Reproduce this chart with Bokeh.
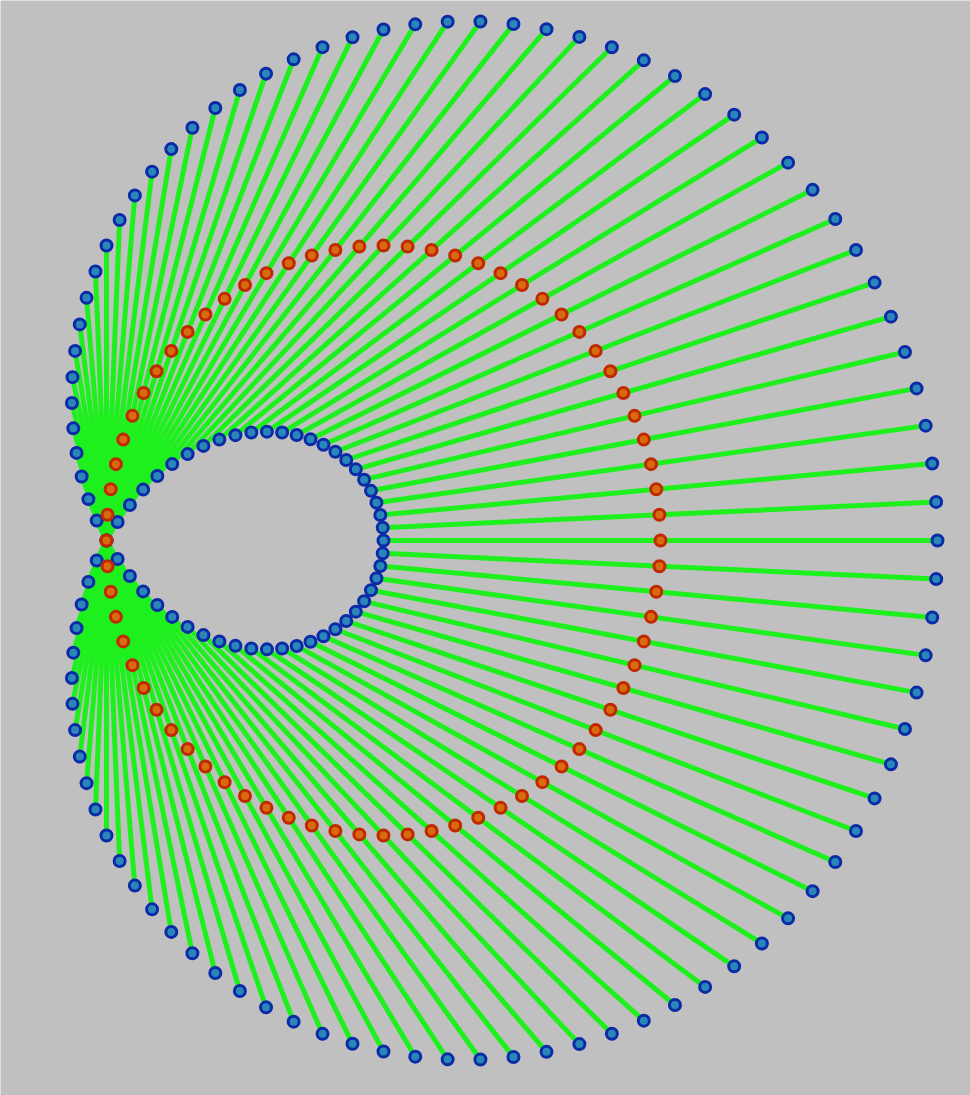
import numpy as np
from bokeh.plotting import figure
from bokeh.embed import file_html
from bokeh.resources import INLINE
from bokeh.models import Range1d

# Construction parameters (circle radius, fixed point on circle, extension length)
circle_center = [1.0, 0.0]
circle_radius = 1.0
extension = 1.0
# central angles (degrees) of the points placed on the red circle
angles_deg = [0, 5, 10, 15, 20, 25, 30, 35, 40, 45, 50, 55, 60, 65, 70, 75, 80, 85,
              90, 95, 100, 105, 110, 115, 120, 125, 130, 135, 140, 145, 150, 155, 160, 165, 170, 175,
              180, 185, 190, 195, 200, 205, 210, 215, 220, 225, 230, 235, 240, 245, 250, 255, 260, 265,
              270, 275, 280, 285, 290, 295, 300, 305, 310, 315, 320, 325, 330, 335, 340, 345, 350, 355]

phi = np.radians(np.array(angles_deg, dtype=float))
px = circle_center[0] + circle_radius * np.cos(phi)
py = circle_center[1] + circle_radius * np.sin(phi)
theta = phi / 2.0
ux, uy = np.cos(theta), np.sin(theta)
ox, oy = px + extension * ux, py + extension * uy
ix, iy = px - extension * ux, py - extension * uy

W, H = 970, 1095
sx, sy = 277.0, 295.0
x0 = -106.0 / sx
y1 = 540.0 / sy
p = figure(width=W, height=H, output_backend="svg", toolbar_location=None,
           x_range=Range1d(x0, x0 + W / sx), y_range=Range1d(y1 - H / sy, y1),
           min_border=0, background_fill_color="#c0c0c0", border_fill_color="#c0c0c0",
           outline_line_color=None)
p.axis.visible = False
p.grid.visible = False

p.segment(x0=ix, y0=iy, x1=ox, y1=oy, line_color="#1ef01e", line_width=5)

p.scatter(np.concatenate([ox, ix]), np.concatenate([oy, iy]), size=11,
          fill_color="#2a86b8", line_color="#0a2aa8", line_width=3)
p.scatter(px, py, size=11, fill_color="#d86a10", line_color="#c02800", line_width=3)

open("out.html", "w").write(file_html(p, INLINE))
